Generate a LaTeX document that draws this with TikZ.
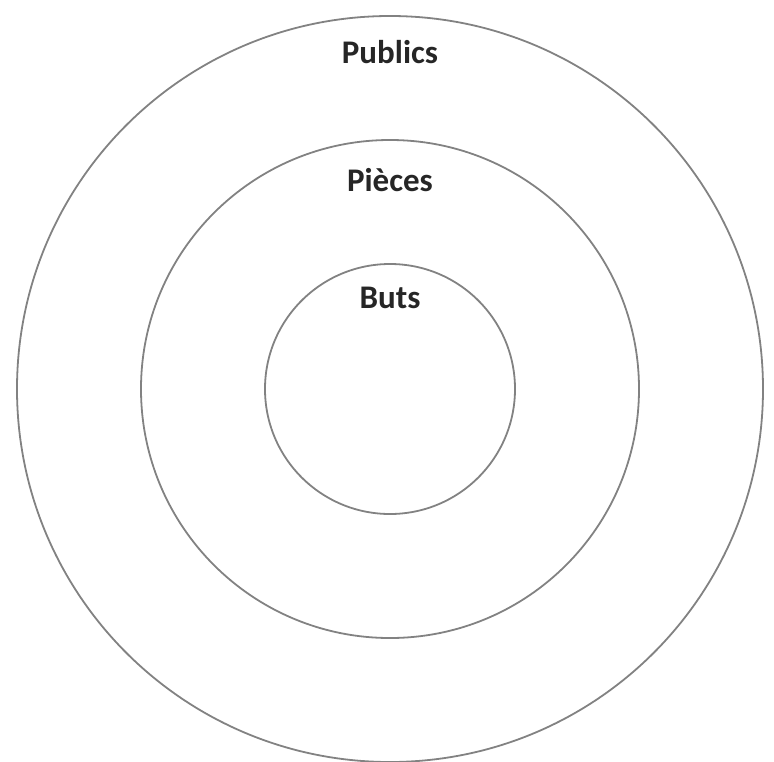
\documentclass[tikz,border=0pt]{standalone}
\usepackage{fontspec}
\setmainfont{Carlito}
\usetikzlibrary{positioning}
\definecolor{ringGray}{RGB}{130,130,130}

\begin{document}
\begin{tikzpicture}[x=0.5pt, y=0.5pt,
    ring/.style={circle, draw=ringGray, line width=0.9pt, inner sep=0pt},
    lbl/.style={font=\fontsize{16.5}{18}\selectfont\bfseries, text=black!85, inner sep=0pt}
  ]
    \useasboundingbox (-390,-372) rectangle (384,389);
    \node[ring, minimum size=373pt] (publics) at (0,0) {};
    \node[ring, minimum size=249pt] (pieces) at (0,0) {};
    \node[ring, minimum size=125pt] (buts) at (0,0) {};
    \node[lbl] (tPublics) at (0,337) {Publics};
    \node[lbl] (tPieces) at (0,209) {Pièces};
    \node[lbl] (tButs) at (0,91) {Buts};
  \end{tikzpicture}
\end{document}
